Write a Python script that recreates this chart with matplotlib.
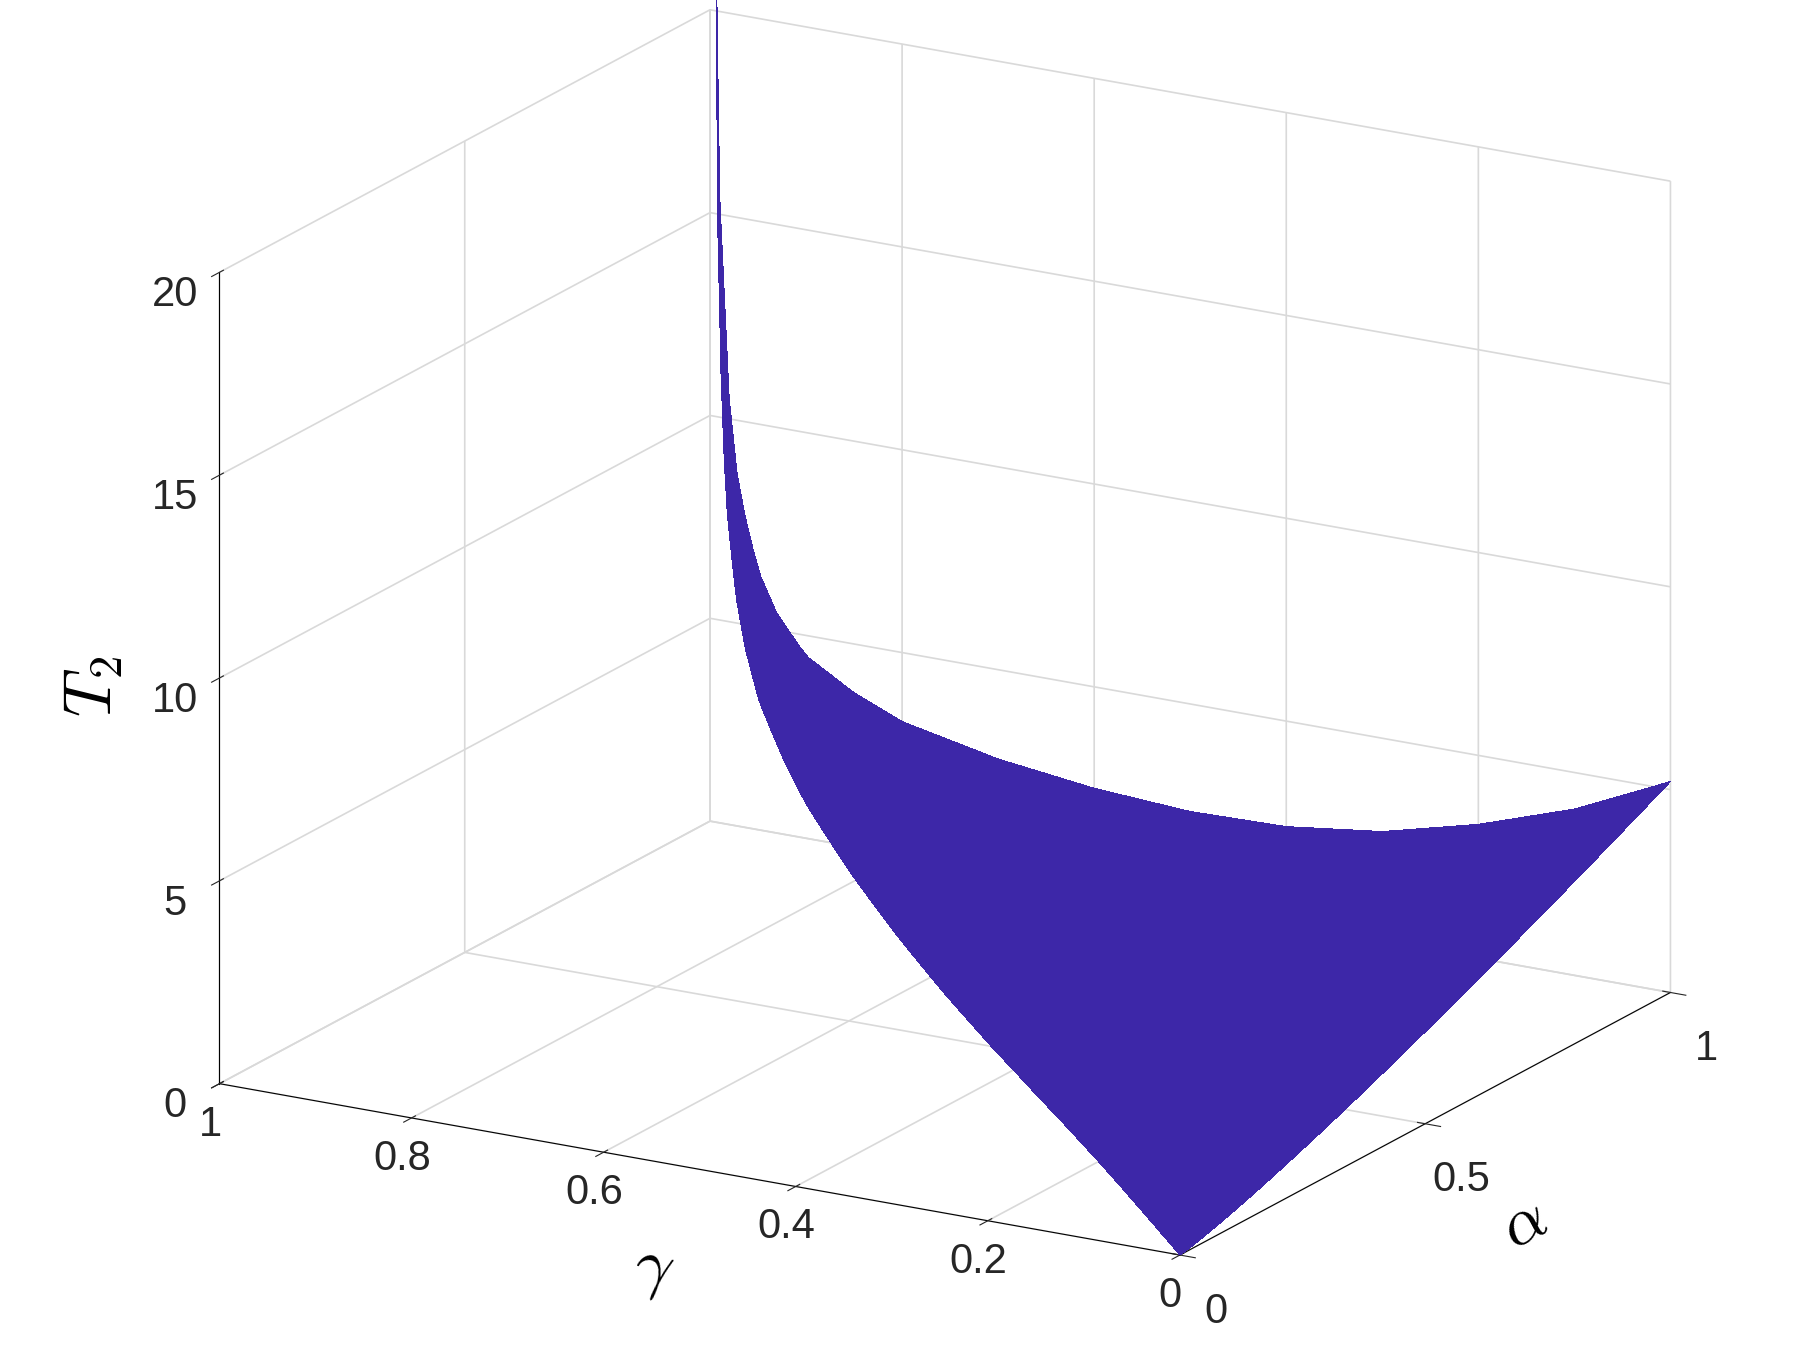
import numpy as np
import matplotlib
matplotlib.use("Agg")
import matplotlib.pyplot as plt
plt.rcParams['font.family'] = ['Liberation Sans', 'DejaVu Sans']
plt.rcParams['mathtext.fontset'] = 'cm'

alpha_ticks = [0, 0.5, 1]
gamma_ticks = [0, 0.2, 0.4, 0.6, 0.8, 1]
z_ticks = [0, 5, 10, 15, 20]
# T2 along alpha=1 edge as a function of gamma
edge_gamma = np.array([0.0, 0.1, 0.2, 0.3, 0.4, 0.5, 0.6, 0.7, 0.8, 0.85, 0.9, 0.93, 0.95, 0.97, 0.98, 0.99, 0.995])
edge_T = np.array([5.2, 4.1, 3.3, 2.7, 2.4, 2.35, 2.5, 2.8, 3.3, 3.8, 4.5, 5.4, 6.4, 8.3, 10.5, 15.5, 24.0])

s = np.linspace(0, 1, 150)            # alpha
t = np.concatenate([np.linspace(0, 0.98, 120), np.linspace(0.981, 0.995, 40)])
S, Tt = np.meshgrid(s, t)
A = S
G = S * Tt
Z = A ** 1.2 * np.interp(G, edge_gamma, edge_T)

fig = plt.figure(figsize=(18.11, 13.62), dpi=100)
ax = fig.add_axes([-0.08, -0.06, 1.18, 1.16], projection='3d', proj_type='ortho')
surf = ax.plot_surface(G, A, Z, color='#3d27a8', shade=False, linewidth=0, antialiased=False, rstride=1, cstride=1)
surf.set_clip_on(False)
ax.set_xlim(1, 0); ax.set_ylim(0, 1); ax.set_zlim(0, 20)
ax.set_xticks(gamma_ticks); ax.set_xticklabels(['0', '0.2', '0.4', '0.6', '0.8', '1'])
ax.set_yticks(alpha_ticks); ax.set_yticklabels(['0', '0.5', '1'])
ax.set_zticks(z_ticks)
ax.view_init(elev=18, azim=-60)
ax.zaxis.set_ticks_position('lower')
ax.zaxis.set_label_position('lower')
for a in (ax.xaxis, ax.yaxis, ax.zaxis):
    a.set_pane_color((1, 1, 1, 0))
    a._axinfo['grid']['color'] = (0.85, 0.85, 0.85, 1)
    a._axinfo['grid']['linewidth'] = 1.2
    a._axinfo['axisline']['linewidth'] = 2
    a._axinfo['axisline']['color'] = (0.15, 0.15, 0.15, 1)
ax.tick_params(labelsize=30, colors='#262626')
ax.tick_params(axis='y', pad=14)
ax.tick_params(axis='z', pad=10)
ax.set_xlabel(r'$\gamma$', fontsize=48, labelpad=35)
ax.set_ylabel(r'$\alpha$', fontsize=48, labelpad=40)
ax.zaxis.set_rotate_label(False)
ax.set_zlabel(r'$T_2$', fontsize=48, labelpad=30, rotation=90)
ax.set_box_aspect((1.3, 1.15, 1.0), zoom=1.05)
fig.savefig('out.png', dpi=100)
